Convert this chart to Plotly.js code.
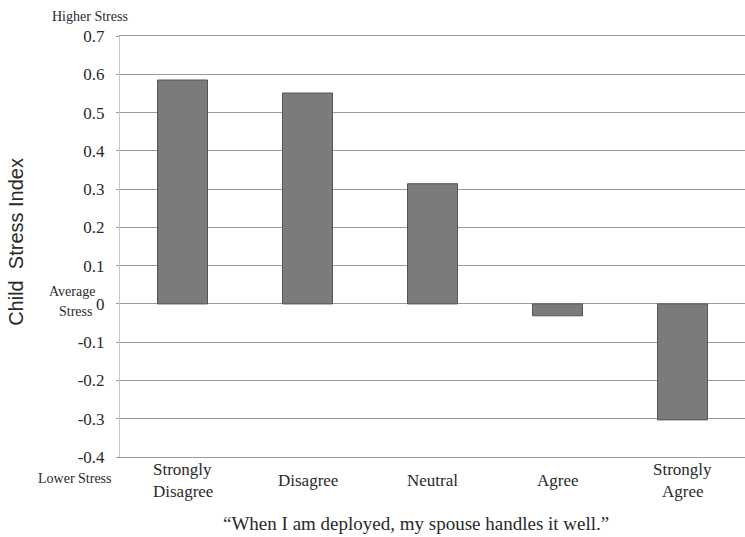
<!DOCTYPE html>
<html>
<head>
<meta charset="utf-8">
<script src="https://cdn.plot.ly/plotly-3.0.1.min.js"></script>
<style>html,body{margin:0;padding:0;background:#fff}#chart{width:745px;height:537px}</style>
</head>
<body>
<div id="chart"></div>
<script>
const categories = ["Strongly Disagree", "Disagree", "Neutral", "Agree", "Strongly Agree"];
const categoryLabels = ["Strongly<br>Disagree", "Disagree", "Neutral", "Agree", "Strongly<br>Agree"];
const stressIndex = [0.585, 0.551, 0.314, -0.031, -0.303];
const yTickValues = [-0.4, -0.3, -0.2, -0.1, 0, 0.1, 0.2, 0.3, 0.4, 0.5, 0.6, 0.7];
const yTickLabels = ["-0.4", "-0.3", "-0.2", "-0.1", "0", "0.1", "0.2", "0.3", "0.4", "0.5", "0.6", "0.7"];

const serif = "Liberation Serif";
const sans = "Liberation Sans";
const txt = "#2a2a2a";

const trace = {
  type: "bar",
  x: categories,
  y: stressIndex,
  width: 0.4,
  marker: {color: "#7b7b7b", line: {color: "#555555", width: 1}},
  hoverinfo: "x+y"
};

const annotations = [];
categories.forEach((c, i) => {
  const lines = categoryLabels[i].split("<br>");
  lines.forEach((ln, j) => {
    annotations.push({
      x: c, xref: "x", y: 0, yref: "paper",
      text: ln, showarrow: false,
      xanchor: "center", yanchor: "middle",
      yshift: -23 - (j - (lines.length - 1) / 2) * 22,
      font: {family: serif, size: 17, color: txt}
    });
  });
});
annotations.push(
  {x: 0, xref: "paper", xanchor: "center", xshift: -30, y: 1, yref: "paper", yanchor: "middle", yshift: 20, text: "Higher Stress", showarrow: false, font: {family: serif, size: 14, color: txt}},
  {x: 0, xref: "paper", y: 0, yref: "y", text: "Average", showarrow: false, xanchor: "center", xshift: -48, yanchor: "middle", yshift: 12, font: {family: serif, size: 14, color: txt}},
  {x: 0, xref: "paper", y: 0, yref: "y", text: "Stress", showarrow: false, xanchor: "center", xshift: -45, yanchor: "middle", yshift: -8, font: {family: serif, size: 14, color: txt}},
  {x: 0, xref: "paper", y: 0, yref: "paper", text: "Lower Stress", showarrow: false, xanchor: "center", xshift: -45, yanchor: "middle", yshift: -21, font: {family: serif, size: 14, color: txt}},
  {x: 0.474, xref: "paper", y: 0, yref: "paper", text: "\u201cWhen I am deployed, my spouse handles it well.\u201d", showarrow: false, xanchor: "center", yanchor: "middle", yshift: -66, font: {family: serif, size: 19, color: txt}},
  {x: 0, xref: "paper", xshift: -104, y: 0.511, yref: "paper", text: "Child  Stress Index", textangle: -90, showarrow: false, xanchor: "center", yanchor: "middle", font: {family: sans, size: 20, color: txt}}
);

const layout = {
  width: 745, height: 537,
  margin: {l: 120, r: 0, t: 36, b: 80},
  paper_bgcolor: "#ffffff", plot_bgcolor: "#ffffff",
  font: {family: serif, color: txt},
  showlegend: false,
  xaxis: {
    type: "category",
    showticklabels: false,
    showgrid: false, zeroline: false,
    showline: true, mirror: true, linecolor: "#9a9a9a", linewidth: 1,
    ticks: "",
    automargin: false
  },
  yaxis: {
    range: [-0.4, 0.7],
    tickvals: yTickValues, ticktext: yTickLabels,
    tickfont: {family: serif, size: 17, color: txt},
    showgrid: true, gridcolor: "#9a9a9a", gridwidth: 1,
    zeroline: true, zerolinecolor: "#9a9a9a", zerolinewidth: 1,
    showline: true, linecolor: "#c8c8c8", linewidth: 1,
    ticks: "outside", ticklen: 3, tickcolor: "#9a9a9a",
    ticklabelstandoff: 8,
    automargin: false
  },
  annotations: annotations
};

Plotly.newPlot("chart", [trace], layout, {displayModeBar: false, staticPlot: true});
</script>
</body>
</html>
